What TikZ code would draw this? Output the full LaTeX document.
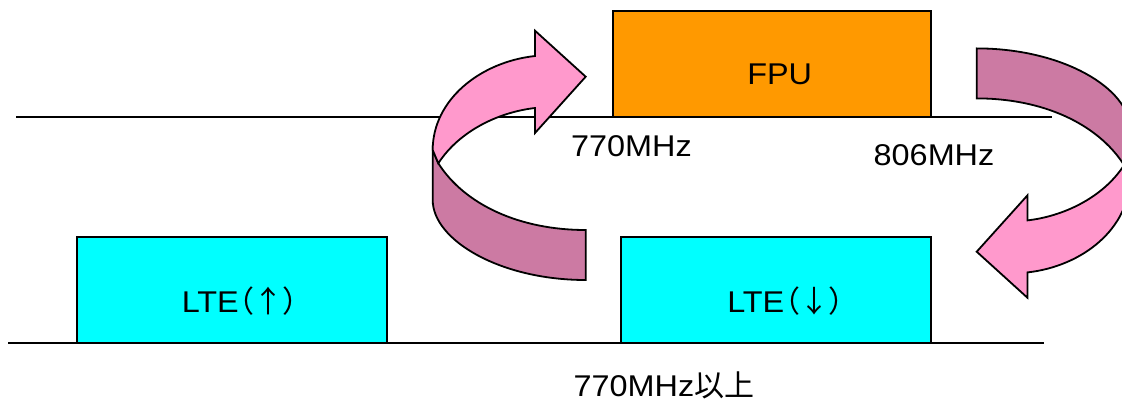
\documentclass[tikz,border=0pt]{standalone}
\usepackage{fontspec}
\setmainfont{Liberation Sans}[FakeStretch=1.08]
\newfontfamily\jpfont{Noto Sans CJK JP}[RawFeature=+palt]
\definecolor{fpuorange}{HTML}{FF9900}
\definecolor{ltecyan}{HTML}{00FFFF}
\definecolor{ribbonpink}{HTML}{FF99CC}
\definecolor{ribbondark}{HTML}{CC7AA3}
\newcommand\uturnribbon{%
  \draw[ribbonedge, fill=ribbondark] (432.7,150) -- (432.7,200)
    .. controls (432.7,240) and (500,280) .. (585.7,280) -- (585.7,230)
    .. controls (520,230) and (465,205) .. (438.3,163.3) -- cycle;
  \draw[ribbonedge, fill=ribbonpink] (535,56)
    .. controls (480,62) and (432.7,100) .. (432.7,150) -- (438.3,163.3)
    .. controls (460,130) and (500,112) .. (535,108) -- (535,133)
    -- (585.7,76.7) -- (535,30.7) -- cycle;
}
\begin{document}
\begin{tikzpicture}[x=1pt,y=-1pt,
  axisline/.style={draw=black, line width=1.8pt},
  bandbox/.style={draw=black, line width=1.8pt, inner sep=0pt},
  ribbonedge/.style={draw=black, line width=1.8pt, line join=miter},
  lbl/.style={font=\fontsize{30}{36}\selectfont, inner sep=0pt}]
\useasboundingbox (0,0) rectangle (1122,399);
% frequency axes
\coordinate (t1) at (16,116.7);
\coordinate (t2) at (1051.7,116.7);
\coordinate (b1) at (8.3,343.3);
\coordinate (b2) at (1044,343.3);
\draw[axisline] (t1) -- (t2);
\draw[axisline] (b1) -- (b2);
% bands
\node[bandbox, fill=fpuorange, minimum width=317.7pt, minimum height=106pt,
  label={[lbl, anchor=base, xshift=7.5pt, yshift=-10.3pt]center:FPU}]
  (fpu) at (772.2,63.7) {};
\node[bandbox, fill=ltecyan, minimum width=310pt, minimum height=106pt,
  label={[lbl, anchor=base, xshift=8.6pt, yshift=-10.4pt]center:LTE{\jpfont （↑）}}]
  (lteup) at (231.7,290.3) {};
\node[bandbox, fill=ltecyan, minimum width=310pt, minimum height=106pt,
  label={[lbl, anchor=base, xshift=9.8pt, yshift=-10.4pt]center:LTE{\jpfont （↓）}}]
  (ltedown) at (776,290.3) {};
% ribbons
\uturnribbon
\begin{scope}[rotate around={180:(781.2,164.2)}]
\uturnribbon
\end{scope}
% frequency labels
\node[lbl, anchor=base west] (f770) at (571,156.7) {770MHz};
\node[lbl, anchor=base west] (f806) at (873.5,165) {806MHz};
\node[lbl, anchor=base west] (f770up) at (573.5,396.7) {770MHz{\jpfont 以上}};
\end{tikzpicture}
\end{document}
